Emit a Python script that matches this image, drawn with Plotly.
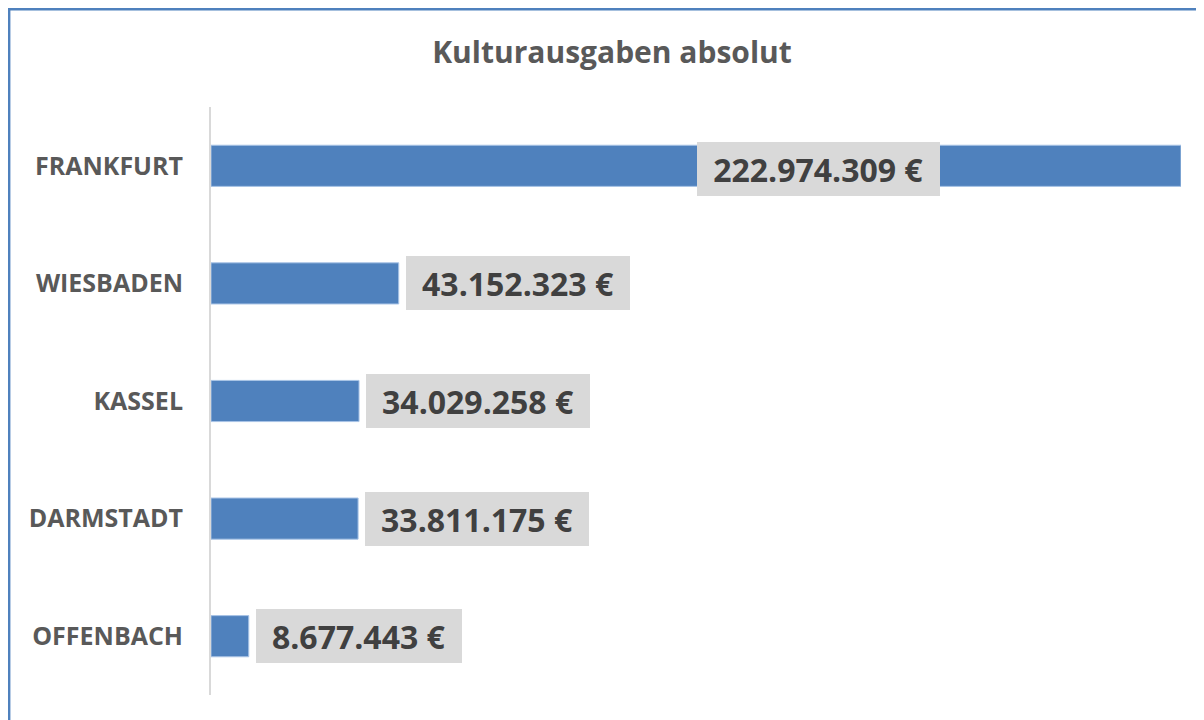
import plotly.graph_objects as go

cities = ["FRANKFURT", "WIESBADEN", "KASSEL", "DARMSTADT", "OFFENBACH"]
values = [222974309, 43152323, 34029258, 33811175, 8677443]
title_text = "Kulturausgaben absolut"

def fmt(v):
    return f"{v:,}".replace(",", ".") + " €"

labels = [fmt(v) for v in values]

FONT = "Open Sans"
# page offset (body margin) compensation
OX, OY = 8, 8
L, T, PW, PH = 211 - OX, 107 - OY, 970, 588

fig = go.Figure()
fig.add_trace(go.Bar(
    y=cities, x=values, orientation="h", width=0.35,
    marker=dict(color="#4f81bd", line=dict(color="#a9c4e6", width=1)),
    hoverinfo="skip",
))

# value labels
for i, (c, v, t) in enumerate(zip(cities, values, labels)):
    inside = (i == 0)
    fig.add_annotation(
        x=v, y=c, xref="x", yref="y",
        text=t, showarrow=False,
        xanchor="right" if inside else "left",
        xshift=-241 if inside else 7,
        yshift=-3 if inside else 0,
        font=dict(family=FONT, size=32, color="#404040", weight="bold"),
        bgcolor="#d9d9d9", borderpad=0, borderwidth=0,
        width=18.5 * len(t) + 2, height=54, align="center", valign="middle",
    )

# outer chart border (figure pixel 1 from top/left edge)
fig.add_shape(type="rect", xref="paper", yref="paper",
              x0=(1.2 - L) / PW, x1=(1230 - L) / PW,
              y0=-50 / PH, y1=(T + PH - 1.2) / PH,
              line=dict(color="#4f81bd", width=2.4), fillcolor="rgba(0,0,0,0)", layer="below")

fig.update_layout(
    width=1204, height=720,
    margin=dict(l=L, r=1204 - L - PW, t=T, b=720 - T - PH),
    paper_bgcolor="white", plot_bgcolor="white",
    showlegend=False,
    title=dict(text=title_text, x=(612 - OX) / 1204, xref="container", xanchor="center",
               y=1 - (52 - OY) / 720, yref="container", yanchor="middle",
               font=dict(family=FONT, size=30, color="#595959", weight="bold")),
    xaxis=dict(range=[0, values[0]], showgrid=False, zeroline=False,
               showticklabels=False, showline=False, fixedrange=True),
    yaxis=dict(categoryorder="array", categoryarray=cities, autorange="reversed",
               showgrid=False, zeroline=False, showline=True, linecolor="#d9d9d9", linewidth=2,
               ticks="", ticklabelstandoff=21,
               tickfont=dict(family=FONT, size=25, color="#595959", weight="bold")),
    bargap=0.65,
)

fig.write_html("out.html")
